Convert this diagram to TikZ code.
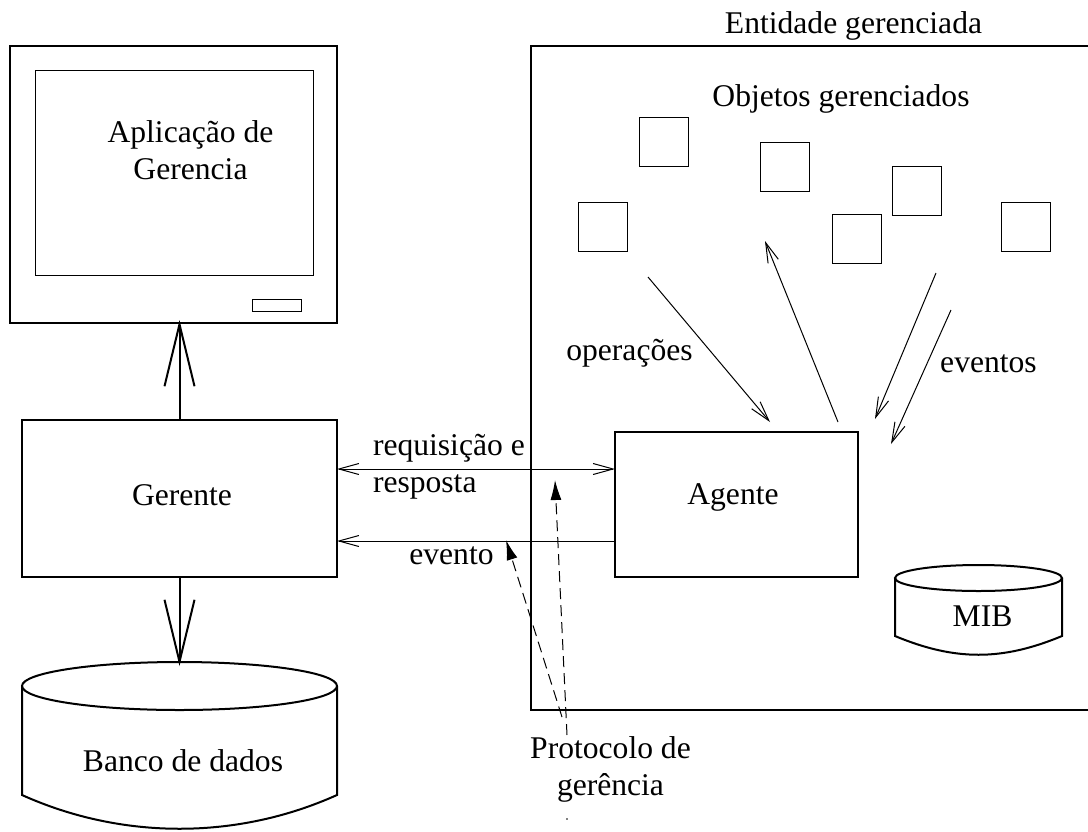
\documentclass[tikz,border=0pt]{standalone}
\usepackage{fontspec}
\setmainfont{Liberation Serif}
\usetikzlibrary{arrows.meta,positioning}

\begin{document}
\begin{tikzpicture}[x=1pt,y=-1pt,
		grosso/.style={line width=2pt},
		fino/.style={line width=1pt},
		caixa/.style={draw,rectangle,grosso,inner sep=0pt,outer sep=0pt},
		objeto/.style={draw,rectangle,fino,minimum width=49pt,minimum height=49pt,inner sep=0pt,outer sep=0pt},
		rotulo/.style={font=\fontsize{31.6}{37}\selectfont,inner sep=0pt,outer sep=0pt},
		seta/.style={fino,-{Straight Barb[length=20pt,width=11pt]}},
		setagrande/.style={grosso,-{Straight Barb[length=62pt,width=30pt]}},
		protocolo/.style={fino,dash pattern=on 11pt off 6pt,-{Latex[length=20pt,width=11pt]}}]
	\useasboundingbox (0,0) rectangle (1088,831);
	
	% Monitor
	\node[caixa,minimum width=327pt,minimum height=277pt] (monitor) at (173.5,184.5) {};
	\node[draw,rectangle,fino,minimum width=278pt,minimum height=205pt,inner sep=0pt] (tela) at (174.5,172.5) {};
	\node[draw,rectangle,fino,minimum width=49pt,minimum height=12pt,inner sep=0pt] (botao) at (276.5,305) {};
	\node[rotulo,align=center,anchor=base] (aplicacao) at (190.5,179) {Aplicação de\\Gerencia};
	
	% Gerente
	\node[caixa,minimum width=315pt,minimum height=157pt] (gerente) at (179.5,498.5) {};
	\node[rotulo,anchor=base] (gerentetxt) at (182,505) {Gerente};
	
	% Banco de dados
	\coordinate (banco) at (179.5,666);
	\draw[grosso] (22,686) -- (22,795) .. controls (122,840) and (237,840) .. (337,795) -- (337,686);
	\draw[grosso] (179.5,686) ellipse (157.5pt and 24pt);
	\node[rotulo,anchor=base] (bancotxt) at (183,771) {Banco de dados};
	
	% Entidade gerenciada
	\draw[grosso] (1088,46) -- (531,46) -- (531,710) -- (1088,710);
	\node[rotulo,anchor=base] (entidade) at (853.5,33) {Entidade gerenciada};
	\node[rotulo,anchor=base] (objetos) at (841,106) {Objetos gerenciados};
	
	% Objetos
	\node[objeto] (obj1) at (663.5,142) {};
	\node[objeto] (obj2) at (784.5,166.5) {};
	\node[objeto] (obj3) at (917,190.5) {};
	\node[objeto] (obj4) at (856.5,239) {};
	\node[objeto] (obj5) at (602.5,226.5) {};
	\node[objeto] (obj6) at (1026,226.5) {};
	
	% Agente
	\node[caixa,minimum width=243pt,minimum height=145pt] (agente) at (736.5,504.5) {};
	\node[rotulo,anchor=base] (agentetxt) at (733,504) {Agente};
	
	% MIB
	\coordinate (mib) at (978.5,578);
	\draw[grosso] (895,578) -- (895,636) .. controls (955,661) and (1002,661) .. (1062,636) -- (1062,578);
	\draw[grosso] (mib) ellipse (83.5pt and 13pt);
	\node[rotulo,anchor=base] (mibtxt) at (982.5,626) {MIB};
	
	% Setas entre gerente, monitor e banco
	\draw[setagrande,shorten >=-3pt] (gerente.north) -- (gerente.north |- monitor.south);
	\draw[setagrande] (gerente.south) -- (banco);
	
	% Requisicao e evento
	\coordinate (req) at (0,469);
	\coordinate (evt) at (0,541);
	\draw[fino,{Straight Barb[length=20pt,width=11pt]}-{Straight Barb[length=20pt,width=11pt]}] (gerente.east |- req) -- (agente.west |- req);
	\draw[seta] (agente.west |- evt) -- (gerente.east |- evt);
	\node[rotulo,align=left,anchor=base west] (requisicao) at (373,492) {requisição e\\resposta};
	\node[rotulo,anchor=base] (evento) at (451.5,564) {evento};
	
	% Operacoes e eventos
	\coordinate (op1a) at (648,277);
	\coordinate (op1b) at (770,422);
	\coordinate (op2a) at (838,422);
	\coordinate (op2b) at (765,241);
	\coordinate (ev1a) at (936,273);
	\coordinate (ev1b) at (875,419);
	\coordinate (ev2a) at (951,310);
	\coordinate (ev2b) at (891,444);
	\draw[seta] (op1a) -- (op1b);
	\draw[seta] (op2a) -- (op2b);
	\draw[seta] (ev1a) -- (ev1b);
	\draw[seta] (ev2a) -- (ev2b);
	\node[rotulo,anchor=base] (operacoes) at (629.5,360) {operações};
	\node[rotulo,anchor=base] (eventos) at (988.5,372) {eventos};
	
	% Protocolo de gerencia
	\node[rotulo,align=center,anchor=base] (protocolotxt) at (610.5,795) {Protocolo de\\gerência};
	\coordinate (p1a) at (567,735);
	\coordinate (p1b) at (555,480);
	\coordinate (p2a) at (562,717);
	\coordinate (p2b) at (506,540);
	\draw[protocolo] (p1a) -- (p1b);
	\draw[protocolo] (p2a) -- (p2b);
	\fill (567,819) circle (0.8pt);
	
\end{tikzpicture}
\end{document}
